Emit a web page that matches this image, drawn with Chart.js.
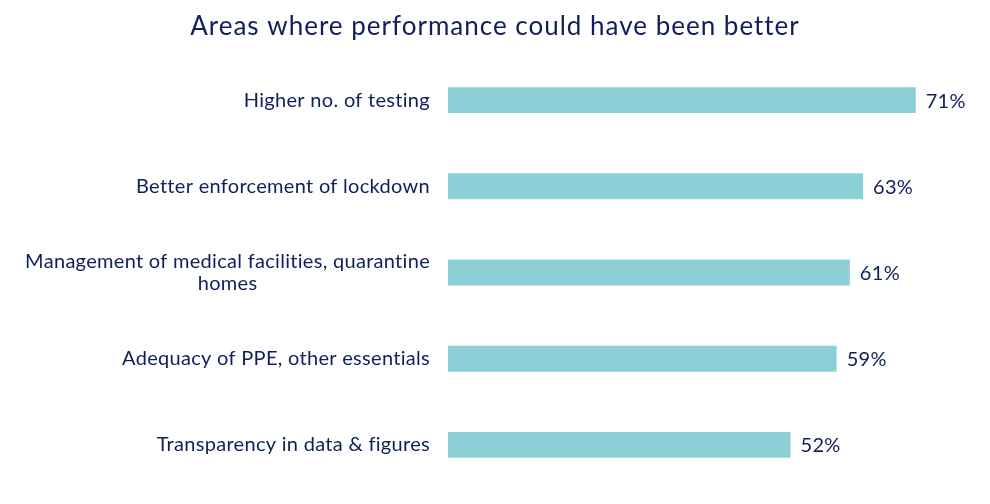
<!DOCTYPE html>
<html>
<head>
<meta charset="utf-8">
<script src="https://cdn.jsdelivr.net/npm/chart.js@4.4.1/dist/chart.umd.min.js"></script>
<style>
	body { margin: 0; background: #fff; }
	#wrap { width: 990px; height: 504px; position: relative; }
</style>
</head>
<body>
<div id="wrap"><canvas id="chart"></canvas></div>
<script>
const titleText = 'Areas where performance could have been better';
const categories = [
	["Higher no. of testing"],
	["Better enforcement of lockdown"],
	["Management of medical facilities, quarantine", "homes"],
	["Adequacy of PPE, other essentials"],
	["Transparency in data & figures"]
];
const values = [71, 63, 61, 59, 52];

const navy = '#0f1f5c';
const barColor = '#8bd0d7';
const fontFamily = 'Lato, "Open Sans", sans-serif';

// title across the full width, category names on the left, values at bar ends
const labelPlugin = {
	id: 'labelPlugin',
	afterDatasetsDraw(chart) {
		const ctx = chart.ctx;
		const yScale = chart.scales.y;
		const meta = chart.getDatasetMeta(0);
		ctx.save();
		ctx.fillStyle = navy;
		ctx.textBaseline = 'middle';

		ctx.font = '26px ' + fontFamily;
		ctx.letterSpacing = '1px';
		ctx.textAlign = 'center';
		ctx.fillText(titleText, chart.width / 2, 27);

		ctx.font = '20px ' + fontFamily;
		ctx.letterSpacing = '0.3px';
		categories.forEach((lines, i) => {
			const y = yScale.getPixelForValue(i);
			const rightEdge = 430;
			const firstWidth = ctx.measureText(lines[0]).width;
			const lineH = 22;
			const top = y - (lines.length - 1) * lineH / 2;
			lines.forEach((line, j) => {
				if (j === 0) {
					ctx.textAlign = 'right';
					ctx.fillText(line, rightEdge, top);
				} else {
					ctx.textAlign = 'center';
					ctx.fillText(line, rightEdge - firstWidth / 2, top + j * lineH);
				}
			});
		});

		meta.data.forEach((bar, i) => {
			ctx.textAlign = 'left';
			ctx.fillText(values[i] + '%', bar.x + 10, bar.y + 1);
		});
		ctx.restore();
	}
};

new Chart(document.getElementById('chart'), {
	type: 'bar',
	data: {
		labels: categories.map(c => c.join(' ')),
		datasets: [{
			data: values,
			backgroundColor: barColor,
			borderWidth: 0,
			barPercentage: 0.3,
			categoryPercentage: 1
		}]
	},
	options: {
		indexAxis: 'y',
		responsive: true,
		maintainAspectRatio: false,
		animation: false,
		layout: { padding: { left: 448, right: 15, top: 57, bottom: 16 } },
		scales: {
			x: { display: false, min: 0, max: 80 },
			y: { display: false }
		},
		plugins: {
			legend: { display: false },
			tooltip: { enabled: false },
			title: { display: false }
		}
	},
	plugins: [labelPlugin]
});
</script>
</body>
</html>
